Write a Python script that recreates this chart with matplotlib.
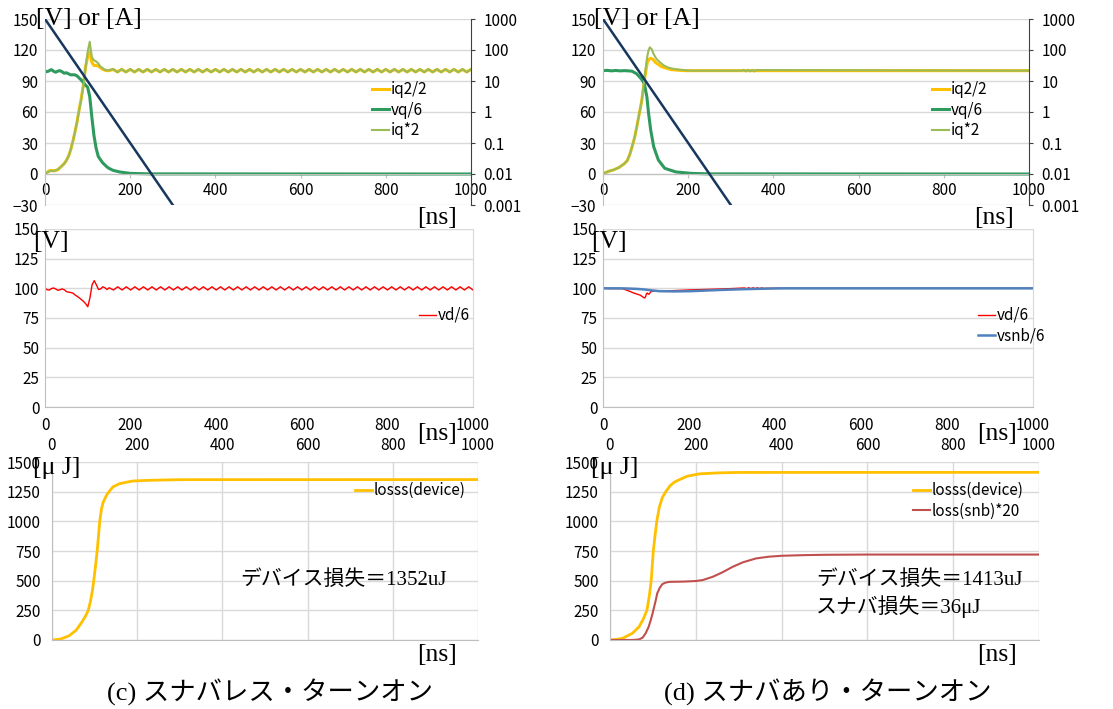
import numpy as np
import matplotlib
matplotlib.use("Agg")
import matplotlib.pyplot as plt
from matplotlib.ticker import FixedLocator, FuncFormatter, NullLocator

plt.rcParams['font.family'] = ['Noto Sans CJK JP', 'DejaVu Sans']

W, H = 1113, 709
SERIF = ['Liberation Serif', 'Noto Sans CJK JP']
GRID = '#D9D9D9'
AXC = '#BFBFBF'
TFS = 11  # tick / legend font size

YELLOW = '#FFC000'
GREEN = '#2E9A5E'
LGREEN = '#9BBB59'
NAVY = '#17375E'
RED = '#FF0000'
BLUE = '#4F81BD'
DRED = '#C0504D'

# ---------------- data ----------------
# sample times of the transient part (ns), then the ripple tail every 10 ns
t_head = [0, 5, 10, 15, 20, 25, 30, 35, 40, 45, 50, 55, 60, 65, 70,
          75, 80, 85, 90, 95, 100, 105, 110, 115, 120, 125, 130, 135, 140, 145]
t_tail = list(range(150, 1001, 10))

# (c) snubberless: top panel
iq2_c = [0.5, 1.5, 3, 3.5, 3, 3.5, 4, 6, 8, 10, 13, 17, 23, 31, 40,
         50, 62, 73, 86, 103, 113, 119, 108, 105, 105, 104.5, 103, 101.5, 100.5, 100,
         100.0,
         101.2, 98.8, 101.2, 98.8, 101.2, 98.8, 101.2, 98.8, 101.2, 98.8,
         101.2, 98.8, 101.2, 98.8, 101.2, 98.8, 101.2, 98.8, 101.2, 98.8,
         101.2, 98.8, 101.2, 98.8, 101.2, 98.8, 101.2, 98.8, 101.2, 98.8,
         101.2, 98.8, 101.2, 98.8, 101.2, 98.8, 101.2, 98.8, 101.2, 98.8,
         101.2, 98.8, 101.2, 98.8, 101.2, 98.8, 101.2, 98.8, 101.2, 98.8,
         101.2, 98.8, 101.2, 98.8, 101.2, 98.8, 101.2, 98.8, 101.2, 98.8,
         101.2, 98.8, 101.2, 98.8, 101.2, 98.8, 101.2, 98.8, 101.2, 98.8,
         101.2, 98.8, 101.2, 98.8, 101.2, 98.8, 101.2, 98.8, 101.2, 98.8,
         101.2, 98.8, 101.2, 98.8, 101.2]
iq_c = [0.5, 1.5, 2.5, 3, 3, 3.5, 4.5, 6, 8, 10, 13, 17, 23, 31, 40,
        50, 61, 72, 85, 103, 118, 128, 113, 110, 109, 107, 104, 102.5, 101, 100.5,
        100.5,
        101.5, 98.5, 101.5, 98.5, 101.5, 98.5, 101.5, 98.5, 101.5, 98.5,
        101.5, 98.5, 101.5, 98.5, 101.5, 98.5, 101.5, 98.5, 101.5, 98.5,
        101.5, 98.5, 101.5, 98.5, 101.5, 98.5, 101.5, 98.5, 101.5, 98.5,
        101.5, 98.5, 101.5, 98.5, 101.5, 98.5, 101.5, 98.5, 101.5, 98.5,
        101.5, 98.5, 101.5, 98.5, 101.5, 98.5, 101.5, 98.5, 101.5, 98.5,
        101.5, 98.5, 101.5, 98.5, 101.5, 98.5, 101.5, 98.5, 101.5, 98.5,
        101.5, 98.5, 101.5, 98.5, 101.5, 98.5, 101.5, 98.5, 101.5, 98.5,
        101.5, 98.5, 101.5, 98.5, 101.5, 98.5, 101.5, 98.5, 101.5, 98.5,
        101.5, 98.5, 101.5, 98.5, 101.5]
t_vq_c = t_head + [150, 160, 175, 200, 250, 1000]
vq_c = [99.5, 99, 100, 101, 99.5, 98.5, 99.5, 100, 99, 97.5, 98, 97, 96, 96, 96,
        95, 93, 91, 88.5, 86, 84, 75, 55, 37, 25, 17, 14, 11, 9, 7,
        5.5, 3.5, 2, 0.6, 0.1, 0]

# (d) with snubber: top panel
t_iq2_d = [0, 10, 16, 25, 38, 50, 57, 63, 68, 74, 79, 85, 91, 97, 100, 104,
           108, 112, 117, 123, 130, 137, 148, 160, 175, 193, 250, 1000]
iq2_d = [0.5, 2, 3, 4, 6.4, 10, 13, 19, 26, 35, 45, 58, 71, 90, 98, 108,
         111, 112, 111, 108, 106, 104, 102.5, 101, 100.5, 100, 100, 100]
t_iq_d = [0, 10, 16, 25, 38, 50, 57, 63, 68, 74, 79, 85, 91, 97, 100, 104,
          107, 110, 114, 119, 126, 134, 143, 153, 165, 178, 207, 320, 325,
          330, 335, 340, 345, 350, 355, 360, 1000]
iq_d = [0.5, 2, 3, 4, 6.4, 10, 13, 19, 26, 35, 45, 58, 71, 92, 102, 114,
        120, 122.6, 121, 116, 111, 108, 105, 103, 101.8, 101, 100, 100, 100,
        100.8, 99.3, 100.8, 99.3, 100.8, 99.3, 100.6, 100]
t_vq_d = [0, 10, 20, 30, 40, 50, 60, 68, 79, 90, 97, 103, 107, 112, 119,
          130, 145, 171, 207, 250, 1000]
vq_d = [100, 100.3, 99.8, 100.2, 99.8, 100, 99.8, 99.5, 97, 92, 87.6, 74.7,
        58.6, 42.5, 26.4, 13.5, 5.5, 2, 0.6, 0.1, 0]

# dark navy reference line (right log axis)
ref_t = [0, 300]
ref_y = [1000, 0.001]

# (c) middle panel
vd_c = [100, 98.8, 98.5, 99.8, 100.3, 99.5, 98.3, 98.8, 99.5, 98.8, 97.3, 96.8, 96.5, 96, 94.5,
        93.3, 92, 90.5, 89, 87, 84.5, 92, 103, 106.5, 103, 99, 99.5, 101.3, 100.5, 99,
        100.5,
        98.6, 101.3, 98.6, 101.3, 98.6, 101.3, 98.6, 101.3, 98.6, 101.3,
        98.6, 101.3, 98.6, 101.3, 98.6, 101.3, 98.6, 101.3, 98.6, 101.3,
        98.6, 101.3, 98.6, 101.3, 98.6, 101.3, 98.6, 101.3, 98.6, 101.3,
        98.6, 101.3, 98.6, 101.3, 98.6, 101.3, 98.6, 101.3, 98.6, 101.3,
        98.6, 101.3, 98.6, 101.3, 98.6, 101.3, 98.6, 101.3, 98.6, 101.3,
        98.6, 101.3, 98.6, 101.3, 98.6, 101.3, 98.6, 101.3, 98.6, 101.3,
        98.6, 101.3, 98.6, 101.3, 98.6, 101.3, 98.6, 101.3, 98.6, 101.3,
        98.6, 101.3, 98.6, 101.3, 98.6, 101.3, 98.6, 101.3, 98.6, 101.3,
        98.6, 101.3, 98.6, 101.3, 98.6]

# (d) middle panel
t_vd_d = [0, 20, 45, 57, 72, 87, 94, 97, 99, 101, 103, 105, 107, 110, 112,
          120, 131, 160, 204, 250, 278, 300, 329, 334, 339, 344, 349, 354,
          359, 364, 369, 374, 380, 400, 1000]
vd_d = [100, 99.8, 99.8, 98.2, 96, 94.2, 92.4, 91.8, 93, 95.5, 96, 95.3, 95,
        96.5, 97.4, 97.5, 97.6, 98, 98.7, 99.2, 99.5, 99.8, 100.3, 99.7, 100.5,
        99.7, 100.5, 99.7, 100.5, 99.7, 100.4, 99.8, 100, 100, 100]
t_vsnb = [0, 40, 60, 80, 97, 115, 131, 165, 204, 250, 278, 320, 351, 400, 425, 1000]
vsnb = [100, 100, 99.8, 99.5, 99, 98.2, 97.6, 97.4, 97.6, 98.3, 98.7, 99.2,
        99.5, 99.9, 100, 100]

# bottom panels: energy [uJ]
t_loss_c = [0, 20, 40, 57, 70, 80, 85, 90, 95, 98, 102, 106, 109, 112, 116,
            120, 128, 135, 143, 159, 190, 229, 300, 1000]
loss_c = [0, 8, 35, 84, 150, 210, 250, 320, 420, 500, 620, 750, 870, 1000,
          1100, 1160, 1220, 1255, 1290, 1318, 1340, 1346, 1351, 1352]
t_loss_d = [0, 15, 29, 52, 68, 78, 86, 92, 96, 101, 105, 109, 115, 122, 130,
            140, 150, 161, 180, 208, 250, 300, 1000]
loss_d = [0, 5, 14, 56, 112, 180, 250, 380, 500, 750, 880, 1000, 1120, 1200,
          1250, 1300, 1330, 1350, 1380, 1400, 1408, 1412, 1413]
t_snb = [0, 50, 60, 68, 76, 83, 90, 95, 99, 103, 107, 110, 116, 122, 130, 138,
         170, 200, 216, 239, 262, 286, 310, 340, 370, 402, 450, 500, 600, 1000]
snb = [0, 0, 2, 5, 20, 56, 110, 168, 220, 280, 340, 392, 440, 471, 484, 490,
       492, 497, 505, 532, 570, 617, 655, 687, 702, 710, 715, 718, 720, 720]

x_ticks = [0, 200, 400, 600, 800, 1000]

fig = plt.figure(figsize=(W / 100, H / 100), dpi=100)


def fax(l, t, r, b):
    return fig.add_axes([l / W, 1 - b / H, (r - l) / W, (b - t) / H])


def put_legend(ax, x, y):
    ax.legend(loc='upper left', bbox_to_anchor=(x / W, 1 - y / H),
              bbox_transform=fig.transFigure, frameon=False, fontsize=TFS,
              handlelength=1.1, handletextpad=0.1, labelspacing=0.24,
              borderpad=0, borderaxespad=0)


def ftext(x, y, s, size, **kw):
    fig.text(x / W, 1 - y / H, s, fontsize=size, family=SERIF, **kw)


def top_panel(l, r, series):
    ax = fax(l, 19, r, 205)
    for t, y, c, lw, lab in series:
        ax.plot(t, y, color=c, lw=lw, label=lab)
    ax.set_xlim(0, 1000)
    ax.set_ylim(-30, 150)
    ax.set_yticks(range(-30, 151, 30))
    ax.set_xticks(x_ticks)
    ax.grid(axis='y', color=GRID, lw=1)
    ax.set_axisbelow(True)
    ax.spines['bottom'].set_position(('data', 0))
    for s in ['top', 'right']:
        ax.spines[s].set_visible(False)
    ax.spines['left'].set_color(AXC)
    ax.spines['bottom'].set_color(AXC)
    ax.tick_params(axis='y', length=0, pad=5, labelsize=TFS)
    ax.tick_params(axis='x', length=3, color=AXC, pad=3, labelsize=TFS)

    ax2 = ax.twinx()
    ax2.plot(ref_t, ref_y, color=NAVY, lw=1.8)
    ax2.set_yscale('log')
    ax2.set_ylim(1e-3, 1e3)
    ax2.yaxis.set_major_locator(FixedLocator([1e-3, 1e-2, 1e-1, 1, 10, 100, 1000]))
    ax2.yaxis.set_minor_locator(NullLocator())
    ax2.yaxis.set_major_formatter(FuncFormatter(lambda v, p: f'{v:g}'))
    for s in ['top', 'left', 'bottom']:
        ax2.spines[s].set_visible(False)
    ax2.spines['right'].set_color('#404040')
    ax2.tick_params(axis='y', direction='out', length=3, color='#404040',
                    pad=6, labelsize=TFS)
    return ax


def mid_panel(l, r, series):
    ax = fax(l, 229, r, 407)
    for t, y, c, lw, lab in series:
        ax.plot(t, y, color=c, lw=lw, label=lab)
    ax.set_xlim(0, 1000)
    ax.set_ylim(0, 150)
    ax.set_yticks(range(0, 151, 25))
    ax.set_xticks(x_ticks)
    ax.grid(axis='y', color=GRID, lw=1)
    ax.set_axisbelow(True)
    ax.spines['top'].set_visible(False)
    for s in ['left', 'bottom']:
        ax.spines[s].set_color(AXC)
    ax.spines['right'].set_color(GRID)
    ax.tick_params(axis='y', length=0, pad=4, labelsize=TFS)
    ax.tick_params(axis='x', length=0, pad=7, labelsize=TFS)
    return ax


def bottom_panel(l, r, series):
    ax = fax(l, 462, r, 640)
    for t, y, c, lw, lab in series:
        ax.plot(t, y, color=c, lw=lw, label=lab)
    ax.set_xlim(0, 1000)
    ax.set_ylim(0, 1500)
    ax.set_yticks(range(0, 1501, 250))
    ax.set_xticks(x_ticks)
    ax.xaxis.tick_top()
    ax.grid(color=GRID, lw=1)
    ax.set_axisbelow(True)
    for s in ['top', 'right']:
        ax.spines[s].set_visible(False)
    ax.spines['left'].set_color(AXC)
    ax.spines['bottom'].set_color(AXC)
    ax.tick_params(axis='y', length=0, pad=8, labelsize=TFS)
    ax.tick_params(axis='x', length=0, pad=6, labelsize=TFS)
    return ax


# ---- (c) column ----
ax = top_panel(45, 471, [
    (t_head + t_tail, iq2_c, YELLOW, 2.2, 'iq2/2'),
    (t_vq_c, vq_c, GREEN, 2.2, 'vq/6'),
    (t_head + t_tail, iq_c, LGREEN, 1.5, 'iq*2'),
])
put_legend(ax, 372, 81)
ax = mid_panel(45, 473, [(t_head + t_tail, vd_c, RED, 1.0, 'vd/6')])
put_legend(ax, 419, 307)
ax = bottom_panel(52, 478, [(t_loss_c, loss_c, YELLOW, 2.0, 'losss(device)')])
put_legend(ax, 355, 482)

# ---- (d) column ----
ax = top_panel(603, 1029, [
    (t_iq2_d, iq2_d, YELLOW, 2.2, 'iq2/2'),
    (t_vq_d, vq_d, GREEN, 2.2, 'vq/6'),
    (t_iq_d, iq_d, LGREEN, 1.5, 'iq*2'),
])
put_legend(ax, 932, 81)
ax = mid_panel(603, 1033, [
    (t_vd_d, vd_d, RED, 1.0, 'vd/6'),
    (t_vsnb, vsnb, BLUE, 1.8, 'vsnb/6'),
])
put_legend(ax, 978, 307)
ax = bottom_panel(610, 1039, [
    (t_loss_d, loss_d, YELLOW, 2.0, 'losss(device)'),
    (t_snb, snb, DRED, 1.5, 'loss(snb)*20'),
])
put_legend(ax, 913, 482)

# ---- unit labels and notes ----
for x0 in (36, 594):
    ftext(x0, 8, '[V] or [A]', 18.5, va='top')
    ftext(x0 - 3, 231, '[V]', 18.5, va='top')
    ftext(x0 - 3, 457, '[μ J]', 18.5, va='top')
for x0, y0 in ((417, 207), (417, 423), (417, 644), (974, 207), (977, 423), (977, 644)):
    ftext(x0, y0, '[ns]', 18.5, va='top')

ftext(240, 580, 'デバイス損失＝1352uJ', 15, va='center')
ftext(816, 580, 'デバイス損失＝1413uJ', 15, va='center')
ftext(816, 607, 'スナバ損失＝36μJ', 15, va='center')

ftext(270, 692, '(c) スナバレス・ターンオン', 19, va='center', ha='center')
ftext(828, 692, '(d) スナバあり・ターンオン', 19, va='center', ha='center')

fig.savefig('out.png', dpi=100)
